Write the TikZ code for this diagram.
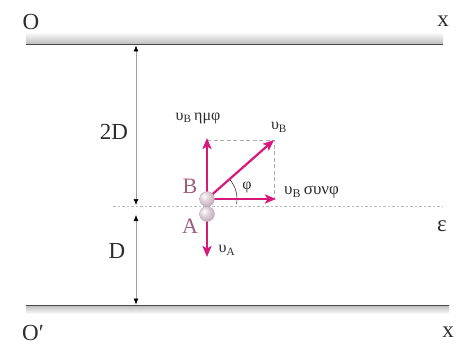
\documentclass[tikz,border=0pt]{standalone}
\usepackage{fontspec}
\setmainfont{Liberation Serif}
\usetikzlibrary{arrows.meta}
\definecolor{vec}{RGB}{214,24,122}
\definecolor{lbl}{RGB}{158,92,126}
\definecolor{txt}{RGB}{45,45,45}
\definecolor{ballc}{RGB}{196,176,188}
\definecolor{balledge}{RGB}{130,110,122}
\pgfdeclareradialshading{pinkball}{\pgfqpoint{-10bp}{10bp}}{color(0bp)=(white); color(14bp)=(ballc!55!white); color(30bp)=(ballc); color(48bp)=(balledge); color(75bp)=(balledge!70!black)}
\begin{document}
\begin{tikzpicture}[x=1pt,y=-1pt,
  vecarrow/.style={draw=vec, line width=2.2pt, -{Stealth[length=11pt,width=9pt,inset=2.5pt]}},
  dimline/.style={draw=gray!75, line width=0.6pt, {Latex[length=6pt,width=5pt,black]}-{Latex[length=6pt,width=5pt,black]}},
  helper/.style={draw=gray!65, line width=0.8pt, dash pattern=on 4pt off 2.5pt},
  axisline/.style={draw=gray!55, line width=0.9pt, dash pattern=on 2.5pt off 2pt},
  bigtxt/.style={font=\fontsize{23}{23}\selectfont, text=txt, inner sep=0pt},
  smalltxt/.style={font=\fontsize{16}{16}\selectfont, text=txt, inner sep=0pt},
  balllbl/.style={font=\fontsize{22}{22}\selectfont, text=lbl, inner sep=0pt},
  ballnode/.style={circle, inner sep=0pt, minimum size=15pt, shading=pinkball, draw=balledge!60, line width=0.3pt}
]
\useasboundingbox (0,0) rectangle (458,345);
% banks
\shade[top color=white, bottom color=gray!55] (26,32) rectangle (443,45);
\draw[gray!55!black, line width=0.9pt] (26,44.5) -- (443,44.5);
\shade[top color=gray!55, bottom color=white] (26,305) rectangle (449,314);
\draw[gray!55!black, line width=0.9pt] (26,305.2) -- (449,305.2);
\node[bigtxt] (O) at (31,22) {O};
\node[bigtxt] (x1) at (443,21) {x};
\node[bigtxt] (O2) at (33,333) {O′};
\node[bigtxt] (x2) at (448,332) {x};
% midline
\coordinate (e1) at (113,206);
\coordinate (e2) at (443,206);
\draw[axisline] (e1) -- (e2);
\node[bigtxt] (eps) at (442,226) {ε};
% dimensions
\coordinate (d1) at (136,45.5);
\coordinate (d2) at (136,205);
\coordinate (d3) at (136,215);
\coordinate (d4) at (136,304.5);
\draw[dimline] (d1) -- (d2);
\draw[dimline] (d3) -- (d4);
\node[bigtxt] (twoD) at (114,132) {2D};
\node[bigtxt] (oneD) at (117,251) {D};
% vectors
\coordinate (b) at (207,199);
\coordinate (a) at (207,214);
\coordinate (tu) at (207,138);
\coordinate (tv) at (274,140);
\coordinate (th) at (276,199);
\coordinate (ta) at (207,257);
\coordinate (c1) at (207,140);
\coordinate (c2) at (274,140);
\coordinate (c3) at (274,199);
\draw[helper] (c1) -- (c2) -- (c3);
\draw[gray!30!black, line width=0.55pt] (b) ++(10:30) arc[start angle=10, end angle=-42, radius=30];
\draw[vecarrow] (b) -- (tu);
\draw[vecarrow] (b) -- (tv);
\draw[vecarrow] (b) -- (th);
\draw[vecarrow] (a) -- (ta);
\node[ballnode] (A) at (a) {};
\node[ballnode] (B) at (b) {};
\node[balllbl] (Blbl) at (190,186) {B};
\node[balllbl] (Albl) at (190,226) {A};
\node[smalltxt] (phi) at (247,187) {φ};
\node[smalltxt] (vBy) at (198,118) {υ\textsubscript{B}\,ημφ};
\node[smalltxt] (vB) at (279,127) {υ\textsubscript{B}};
\node[smalltxt, anchor=west, font=\fontsize{17}{17}\selectfont] (vBx) at (284,192) {υ\textsubscript{B}\,συνφ};
\node[smalltxt] (vA) at (227,250) {υ\textsubscript{A}};
\end{tikzpicture}
\end{document}
